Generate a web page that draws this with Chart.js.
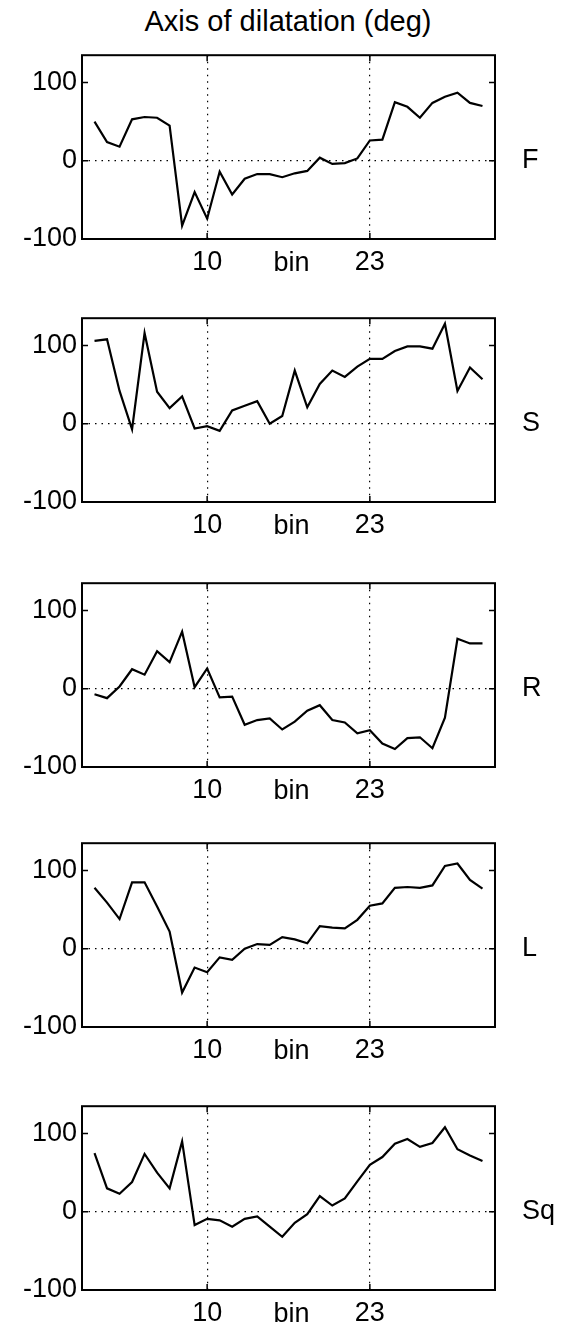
<!DOCTYPE html>
<html>
<head>
<meta charset="utf-8">
<script src="https://cdn.jsdelivr.net/npm/chart.js@4.4.0/dist/chart.umd.min.js"></script>
<style>
  html, body { margin: 0; padding: 0; background: #fff; }
  body { width: 564px; height: 1324px; position: relative; overflow: hidden; font-family: "Liberation Sans", Arial, sans-serif; }
  #title { position: absolute; left: 0; top: 5px; width: 576px; text-align: center; font-size: 29px; color: #000; }
  canvas { position: absolute; left: 0; }
</style>
</head>
<body>
<div id="title">Axis of dilatation (deg)</div>

<script>
// ---- data ----
const bins = [1,2,3,4,5,6,7,8,9,10,11,12,13,14,15,16,17,18,19,20,21,22,23,24,25,26,27,28,29,30,31,32];
const xTicks = [10, 23];
const yTicks = [-100, 0, 100];
const panelLabels = ['F', 'S', 'R', 'L', 'Sq'];

const F  = [50,24,18,53,56,55,45,-83,-40,-74,-14,-43,-23,-17,-17,-21,-16,-13,4,-4,-3,3,26,27,75,69,55,74,82,87,74,70];
const S  = [106,108,42,-7,116,41,20,35,-6,-3,-9,17,23,29,0,10,68,21,51,68,60,73,83,83,93,99,99,96,128,42,72,57];
const R  = [-7,-12,3,25,18,48,34,73,2,26,-11,-10,-46,-40,-38,-52,-42,-28,-21,-40,-43,-57,-53,-70,-77,-63,-62,-76,-37,64,58,58];
const L  = [78,59,38,85,85,54,22,-56,-24,-30,-11,-14,0,6,5,15,12,7,29,27,26,37,55,58,78,79,78,81,106,109,88,77];
const Sq = [75,30,23,38,74,50,30,90,-17,-9,-11,-19,-9,-6,-19,-32,-14,-3,20,8,17,39,60,70,87,93,83,88,108,80,72,65];

const series = [F, S, R, L, Sq];

// ---- layout ----
const boxTops = [54, 317, 582, 842, 1105];
const boxH = 185, padTop = 20, padBottom = 50;
const FONT = '"Liberation Sans", Arial, sans-serif';

// frame, inward ticks, side label and "bin"
const framePlugin = {
  id: 'frame',
  afterDraw(chart, args, opts) {
    const ctx = chart.ctx, a = chart.chartArea;
    const xs = chart.scales.x, ys = chart.scales.y;
    ctx.save();
    ctx.strokeStyle = '#000';
    ctx.lineWidth = 2;
    ctx.strokeRect(a.left, a.top, a.right - a.left, a.bottom - a.top);
    ctx.lineWidth = 1.5;
    ctx.beginPath();
    yTicks.forEach(v => {
      const p = ys.getPixelForValue(v);
      ctx.moveTo(a.left, p); ctx.lineTo(a.left + 6, p);
      ctx.moveTo(a.right, p); ctx.lineTo(a.right - 6, p);
    });
    xTicks.forEach(v => {
      const p = xs.getPixelForValue(v);
      ctx.moveTo(p, a.top); ctx.lineTo(p, a.top + 6);
      ctx.moveTo(p, a.bottom); ctx.lineTo(p, a.bottom - 6);
    });
    ctx.stroke();
    ctx.fillStyle = '#000';
    ctx.font = '27px ' + FONT;
    ctx.textBaseline = 'middle';
    ctx.textAlign = 'left';
    ctx.fillText(opts.label, a.right + 27, ys.getPixelForValue(0));
    ctx.textAlign = 'center';
    ctx.textBaseline = 'alphabetic';
    ctx.fillText('bin', (a.left + a.right) / 2 + 3, a.bottom + 32);
    ctx.restore();
  }
};

series.forEach((vals, i) => {
  const cv = document.createElement('canvas');
  cv.width = 564;
  cv.height = padTop + boxH + padBottom;
  cv.style.top = (boxTops[i] - padTop) + 'px';
  document.body.appendChild(cv);

  new Chart(cv.getContext('2d'), {
    type: 'line',
    data: {
      datasets: [{
        data: bins.map((b, k) => ({ x: b, y: vals[k] })),
        borderColor: '#000',
        borderWidth: 2.2,
        pointRadius: 0,
        tension: 0,
        fill: false
      }]
    },
    options: {
      responsive: false,
      animation: false,
      events: [],
      layout: { padding: { left: 0, right: 69, top: padTop, bottom: 0 } },
      plugins: {
        legend: { display: false },
        tooltip: { enabled: false },
        frame: { label: panelLabels[i] }
      },
      scales: {
        x: {
          type: 'linear',
          min: 0,
          max: 33,
          afterBuildTicks: s => { s.ticks = xTicks.map(v => ({ value: v })); },
          afterFit: s => { s.height = padBottom; },
          grid: { color: '#000', lineWidth: 1.2, drawTicks: false },
          border: { display: false, dash: [1.5, 5] },
          ticks: { color: '#000', padding: 7, font: { family: FONT, size: 27 }, maxRotation: 0 }
        },
        y: {
          min: -100,
          max: 135,
          afterBuildTicks: s => { s.ticks = yTicks.map(v => ({ value: v })); },
          afterFit: s => { s.width = 82; },
          grid: {
            color: c => (c.tick && c.tick.value === 0) ? '#000' : 'rgba(0,0,0,0)',
            lineWidth: 1.2,
            drawTicks: false
          },
          border: { display: false, dash: [1.5, 5] },
          ticks: { color: '#000', padding: 5, font: { family: FONT, size: 27 } }
        }
      }
    },
    plugins: [framePlugin]
  });
});
</script>
</body>
</html>
